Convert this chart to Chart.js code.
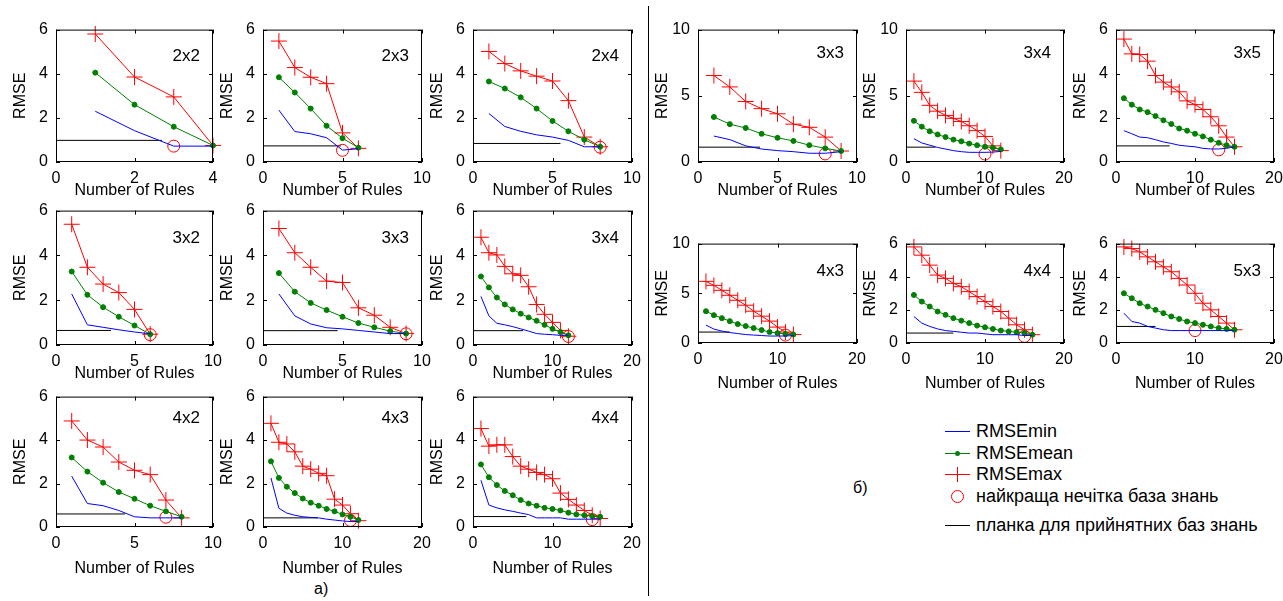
<!DOCTYPE html>
<html>
<head>
<meta charset="utf-8">
<script src="https://cdn.jsdelivr.net/npm/chart.js"></script>
<style>
  body { margin: 0; background: #fff; width: 1283px; height: 601px; overflow: hidden; position: relative;
         font-family: "Liberation Sans", Arial, sans-serif; color: #000; }
  .pane { position: absolute; }
  .txt { position: absolute; font-size: 16px; line-height: 20px; white-space: nowrap; }
  .leg { font-size: 18px; }
  #divider { position: absolute; left: 648px; top: 6px; width: 1px; height: 590px; background: #000; }
  #legend svg { position: absolute; left: 940px; top: 420px; }
</style>
</head>
<body>
<div id="divider"></div>
<div class="txt" style="left:314px; top:579px;">а)</div>
<div class="txt" style="left:853px; top:478px;">б)</div>
<div id="legend">
  <svg width="40" height="120">
    <line x1="5" y1="11.5" x2="30" y2="11.5" stroke="#0000ff" stroke-width="1"/>
    <line x1="5" y1="33.5" x2="30" y2="33.5" stroke="#008000" stroke-width="1"/>
    <circle cx="17.5" cy="33.5" r="2.5" fill="#008000"/>
    <line x1="5" y1="54.5" x2="30" y2="54.5" stroke="#ff0000" stroke-width="1"/>
    <line x1="17.5" y1="47" x2="17.5" y2="62" stroke="#ff0000" stroke-width="1"/>
    <circle cx="17.5" cy="76.5" r="6" fill="none" stroke="#ff0000" stroke-width="1"/>
    <line x1="5" y1="105.5" x2="30" y2="105.5" stroke="#000" stroke-width="1"/>
  </svg>
  <div class="txt leg" style="left:976px; top:421px;">RMSEmin</div>
  <div class="txt leg" style="left:976px; top:443px;">RMSEmean</div>
  <div class="txt leg" style="left:976px; top:464px;">RMSEmax</div>
  <div class="txt leg" style="left:976px; top:486px;">найкраща нечітка база знань</div>
  <div class="txt leg" style="left:976px; top:515px;">планка для прийнятних баз знань</div>
</div>
<script>
// series values, index i -> Number of Rules = i + 1
// a) panels
const min_a22 = [2.3, 1.42, 0.72, 0.72];
const mean_a22 = [4.05, 2.6, 1.6, 0.75];
const max_a22 = [5.8, 3.85, 2.95, 0.75];
const best_a22 = [3, 0.72];
const level_a22 = [0.98, 2.7];

const min_a23 = [2.35, 1.38, 1.28, 1.1, 0.54, 0.6];
const mean_a23 = [3.84, 3.15, 2.42, 1.64, 1.08, 0.65];
const max_a23 = [5.48, 4.28, 3.84, 3.55, 1.32, 0.62];
const best_a23 = [5, 0.53];
const level_a23 = [0.73, 4.9];

const min_a24 = [2.2, 1.61, 1.39, 1.23, 1.13, 0.98, 0.69, 0.69];
const mean_a24 = [3.65, 3.33, 2.93, 2.42, 1.86, 1.39, 1.01, 0.69];
const max_a24 = [5.01, 4.46, 4.13, 3.89, 3.67, 2.78, 1.13, 0.69];
const best_a24 = [8, 0.67];
const level_a24 = [0.84, 5.5];

const min_a32 = [2.28, 0.9, 0.79, 0.68, 0.58, 0.5];
const mean_a32 = [3.28, 2.24, 1.69, 1.26, 0.87, 0.48];
const max_a32 = [5.39, 3.47, 2.72, 2.34, 1.59, 0.48];
const best_a32 = [6, 0.46];
const level_a32 = [0.65, 3.5];

const min_a33 = [2.28, 1.3, 0.94, 0.77, 0.72, 0.65, 0.58, 0.51, 0.51];
const mean_a33 = [3.21, 2.38, 1.88, 1.56, 1.26, 0.98, 0.79, 0.62, 0.51];
const max_a33 = [5.2, 4.12, 3.47, 2.85, 2.79, 1.66, 1.33, 0.79, 0.51];
const best_a33 = [9, 0.5];
const level_a33 = [0.64, 4.7];

const min_a34 = [2.17, 1.3, 0.97, 0.9, 0.82, 0.72, 0.62, 0.51, 0.48, 0.46, 0.43, 0.43];
const mean_a34 = [3.06, 2.57, 2.12, 1.81, 1.59, 1.4, 1.23, 1.08, 0.9, 0.72, 0.58, 0.43];
const max_a34 = [4.81, 4.12, 4.02, 3.51, 3.18, 3.11, 2.6, 1.81, 1.37, 1.01, 0.65, 0.39];
const best_a34 = [12, 0.38];
const level_a34 = [0.64, 6.3];

const min_a42 = [2.34, 1.08, 0.98, 0.76, 0.47, 0.42, 0.42, 0.42];
const mean_a42 = [3.2, 2.55, 2.04, 1.61, 1.3, 0.98, 0.72, 0.47];
const max_a42 = [4.88, 4.0, 3.68, 2.99, 2.61, 2.41, 1.24, 0.42];
const best_a42 = [7, 0.45];
const level_a42 = [0.6, 4.4];

const min_a43 = [2.26, 0.86, 0.64, 0.54, 0.47, 0.44, 0.42, 0.36, 0.32, 0.28, 0.25, 0.25];
const mean_a43 = [3.02, 2.26, 1.85, 1.56, 1.31, 1.12, 0.98, 0.83, 0.72, 0.58, 0.47, 0.32];
const max_a43 = [4.77, 3.9, 3.82, 3.46, 2.8, 2.66, 2.47, 2.36, 1.28, 1.01, 0.61, 0.29];
const best_a43 = [11, 0.3];
const level_a43 = [0.42, 6.9];

const min_a44 = [2.15, 1.01, 0.88, 0.79, 0.72, 0.64, 0.57, 0.42, 0.42, 0.42, 0.42, 0.36, 0.36, 0.36, 0.36, 0.36];
const mean_a44 = [2.88, 2.29, 1.93, 1.66, 1.46, 1.24, 1.08, 0.98, 0.88, 0.83, 0.76, 0.66, 0.58, 0.54, 0.5, 0.47];
const max_a44 = [4.53, 3.72, 3.78, 3.78, 3.24, 2.8, 2.66, 2.51, 2.41, 2.22, 1.56, 1.27, 1.01, 0.76, 0.54, 0.39];
const best_a44 = [15, 0.34];
const level_a44 = [0.48, 6.7];

// б) panels
const min_b33 = [1.96, 1.69, 1.22, 0.98, 0.86, 0.78, 0.66, 0.66, 0.78];
const mean_b33 = [3.4, 2.86, 2.57, 2.13, 1.83, 1.59, 1.27, 1.03, 0.83];
const max_b33 = [6.53, 5.67, 4.57, 4.03, 3.64, 2.86, 2.62, 1.88, 0.83];
const best_b33 = [8, 0.61];
const level_b33 = [1.12, 3.9];

const min_b34 = [1.76, 1.44, 1.27, 1.1, 0.98, 0.86, 0.78, 0.73, 0.73, 0.73, 0.75, 0.8];
const mean_b34 = [3.11, 2.67, 2.32, 2.08, 1.88, 1.69, 1.56, 1.39, 1.27, 1.15, 1.08, 0.95];
const max_b34 = [6.11, 5.26, 4.28, 3.84, 3.52, 3.3, 3.06, 2.74, 2.37, 1.93, 1.22, 0.86];
const best_b34 = [10, 0.6];
const level_b34 = [1.12, 3.7];

const min_b35 = [1.42, 1.28, 1.13, 1.1, 1.01, 0.91, 0.84, 0.76, 0.72, 0.69, 0.62, 0.59, 0.59, 0.62, 0.69];
const mean_b35 = [2.89, 2.6, 2.38, 2.26, 2.08, 1.89, 1.72, 1.52, 1.42, 1.28, 1.16, 1.01, 0.87, 0.76, 0.69];
const max_b35 = [5.57, 4.9, 4.87, 4.57, 3.92, 3.62, 3.4, 3.18, 2.77, 2.6, 2.38, 2.05, 1.64, 1.13, 0.69];
const best_b35 = [13, 0.55];
const level_b35 = [0.73, 6.8];

const min_b43 = [1.8, 1.4, 1.2, 1.05, 0.95, 0.85, 0.8, 0.75, 0.7, 0.7, 0.7, 0.75];
const mean_b43 = [3.2, 2.8, 2.5, 2.2, 1.9, 1.7, 1.5, 1.3, 1.1, 1.0, 0.9, 0.85];
const max_b43 = [6.2, 5.8, 5.3, 4.8, 4.3, 3.8, 3.2, 2.7, 2.2, 1.6, 1.1, 0.85];
const best_b43 = [11, 0.8];
const level_b43 = [1.1, 4.0];

const min_b44 = [1.6, 1.2, 1.0, 0.85, 0.75, 0.7, 0.65, 0.6, 0.6, 0.55, 0.5, 0.5, 0.5, 0.5, 0.45, 0.45];
const mean_b44 = [2.9, 2.5, 2.2, 1.9, 1.7, 1.5, 1.35, 1.2, 1.05, 0.95, 0.85, 0.75, 0.7, 0.65, 0.6, 0.5];
const max_b44 = [5.8, 5.3, 4.7, 4.1, 3.9, 3.6, 3.4, 3.1, 2.8, 2.5, 2.2, 1.9, 1.5, 1.1, 0.8, 0.5];
const best_b44 = [15, 0.4];
const level_b44 = [0.6, 6.0];

const min_b53 = [1.8, 1.3, 1.2, 1.0, 0.9, 0.8, 0.75, 0.75, 0.75, 0.75, 0.75, 0.75, 0.75, 0.75, 0.75];
const mean_b53 = [3.0, 2.7, 2.4, 2.2, 2.0, 1.8, 1.6, 1.45, 1.3, 1.2, 1.1, 1.0, 0.9, 0.85, 0.8];
const max_b53 = [5.8, 5.7, 5.5, 5.2, 4.9, 4.6, 4.3, 3.9, 3.5, 3.0, 2.4, 2.0, 1.6, 1.2, 0.8];
const best_b53 = [10, 0.75];
const level_b53 = [1.0, 5.0];

// axes ticks: [max, step]
const xTicks4 = [4, 2], xTicks10 = [10, 5], xTicks20 = [20, 10];
const yTicks6 = [6, 2], yTicks10 = [10, 5];

// plot boxes on the page: [left, right] and [top, bottom, room below, label offset]
const colA = [[56, 213], [263, 422], [473, 632]];
const rowA = [[26, 162, 38, 27], [207, 345, 38, 28], [393, 527, 51, 22]];
const colB = [[698, 857], [906, 1064], [1116, 1274]];
const rowB = [[26, 162, 38, 24], [240, 343, 50, 28]];

const panels = [
  ['2x2', min_a22, mean_a22, max_a22, best_a22, level_a22, xTicks4, yTicks6, colA[0], rowA[0]],
  ['2x3', min_a23, mean_a23, max_a23, best_a23, level_a23, xTicks10, yTicks6, colA[1], rowA[0]],
  ['2x4', min_a24, mean_a24, max_a24, best_a24, level_a24, xTicks10, yTicks6, colA[2], rowA[0]],
  ['3x2', min_a32, mean_a32, max_a32, best_a32, level_a32, xTicks10, yTicks6, colA[0], rowA[1]],
  ['3x3', min_a33, mean_a33, max_a33, best_a33, level_a33, xTicks10, yTicks6, colA[1], rowA[1]],
  ['3x4', min_a34, mean_a34, max_a34, best_a34, level_a34, xTicks20, yTicks6, colA[2], rowA[1]],
  ['4x2', min_a42, mean_a42, max_a42, best_a42, level_a42, xTicks10, yTicks6, colA[0], rowA[2]],
  ['4x3', min_a43, mean_a43, max_a43, best_a43, level_a43, xTicks20, yTicks6, colA[1], rowA[2]],
  ['4x4', min_a44, mean_a44, max_a44, best_a44, level_a44, xTicks20, yTicks6, colA[2], rowA[2]],
  ['3x3', min_b33, mean_b33, max_b33, best_b33, level_b33, xTicks10, yTicks10, colB[0], rowB[0]],
  ['3x4', min_b34, mean_b34, max_b34, best_b34, level_b34, xTicks20, yTicks10, colB[1], rowB[0]],
  ['3x5', min_b35, mean_b35, max_b35, best_b35, level_b35, xTicks20, yTicks6, colB[2], rowB[0]],
  ['4x3', min_b43, mean_b43, max_b43, best_b43, level_b43, xTicks20, yTicks10, colB[0], rowB[1]],
  ['4x4', min_b44, mean_b44, max_b44, best_b44, level_b44, xTicks20, yTicks6, colB[1], rowB[1]],
  ['5x3', min_b53, mean_b53, max_b53, best_b53, level_b53, xTicks20, yTicks6, colB[2], rowB[1]],
];

Chart.defaults.font.family = '"Liberation Sans", Arial, sans-serif';
Chart.defaults.font.size = 16;
Chart.defaults.color = '#000';

// box around the axes, inward ticks, and the NxM label
const boxPlugin = {
  id: 'box',
  afterDraw(chart, args, opts) {
    const ctx = chart.ctx, a = chart.chartArea;
    const x = chart.scales.x, y = chart.scales.y;
    ctx.save();
    ctx.strokeStyle = '#000';
    ctx.lineWidth = 1;
    ctx.strokeRect(a.left + 0.5, a.top + 0.5, a.right - a.left - 1, a.bottom - a.top - 1);
    ctx.beginPath();
    x.ticks.forEach(t => {
      const px = Math.round(x.getPixelForValue(t.value)) + 0.5;
      ctx.moveTo(px, a.bottom); ctx.lineTo(px, a.bottom - 4);
      ctx.moveTo(px, a.top); ctx.lineTo(px, a.top + 4);
    });
    y.ticks.forEach(t => {
      const py = Math.round(y.getPixelForValue(t.value)) + 0.5;
      ctx.moveTo(a.left, py); ctx.lineTo(a.left + 4, py);
      ctx.moveTo(a.right, py); ctx.lineTo(a.right - 4, py);
    });
    ctx.stroke();
    ctx.font = '17px "Liberation Sans", Arial, sans-serif';
    ctx.fillStyle = '#000';
    ctx.textAlign = 'right';
    ctx.textBaseline = 'middle';
    ctx.fillText(opts.label, a.right - 13, a.top + opts.dy);
    ctx.restore();
  }
};

const pts = arr => arr.map((v, i) => ({ x: i + 1, y: v }));

panels.forEach(p => {
  const [label, mn, me, mx, best, level, xt, yt, col, row] = p;
  const yW = 56, padTop = 14, padRight = 18;
  const w = col[1] - col[0] + yW + padRight;
  const h = row[1] - row[0] + padTop + row[2];
  const div = document.createElement('div');
  div.className = 'pane';
  div.style.left = (col[0] - yW) + 'px';
  div.style.top = (row[0] - padTop) + 'px';
  const cv = document.createElement('canvas');
  cv.width = w; cv.height = h;
  cv.style.width = w + 'px'; cv.style.height = h + 'px';
  div.appendChild(cv);
  document.body.appendChild(div);

  new Chart(cv, {
    type: 'line',
    data: {
      datasets: [
        { data: pts(mn), borderColor: '#0000ff', borderWidth: 1, pointRadius: 0, clip: false },
        { data: pts(me), borderColor: '#008000', backgroundColor: '#008000', borderWidth: 1,
          pointRadius: 2.5, pointBorderWidth: 1, clip: false },
        { data: pts(mx), borderColor: '#ff0000', borderWidth: 1, pointStyle: 'cross',
          pointRadius: 8, pointBorderWidth: 1, clip: false },
        { data: [{ x: best[0], y: best[1] }], showLine: false, borderColor: '#ff0000',
          backgroundColor: 'rgba(0,0,0,0)', pointRadius: 6, pointBorderWidth: 1, clip: false },
        { data: [{ x: 0, y: level[0] }, { x: level[1], y: level[0] }], borderColor: '#000',
          borderWidth: 1, pointRadius: 0, clip: false },
      ]
    },
    options: {
      responsive: false,
      animation: false,
      events: [],
      layout: { padding: { top: padTop, right: padRight, left: 0, bottom: 0 } },
      plugins: { legend: { display: false }, tooltip: { enabled: false }, box: { label: label, dy: row[3] } },
      scales: {
        x: {
          type: 'linear', min: 0, max: xt[0],
          ticks: { stepSize: xt[1], padding: 7, maxRotation: 0 },
          grid: { display: false, drawTicks: false },
          border: { display: false },
          title: { display: true, text: 'Number of Rules', padding: 0 },
          afterFit: s => { s.height = row[2]; }
        },
        y: {
          type: 'linear', min: 0, max: yt[0],
          ticks: { stepSize: yt[1], padding: 8 },
          grid: { display: false, drawTicks: false },
          border: { display: false },
          title: { display: true, text: 'RMSE', padding: { top: 11, bottom: 0 } },
          afterFit: s => { s.width = yW; }
        }
      }
    },
    plugins: [boxPlugin]
  });
});
</script>
</body>
</html>
